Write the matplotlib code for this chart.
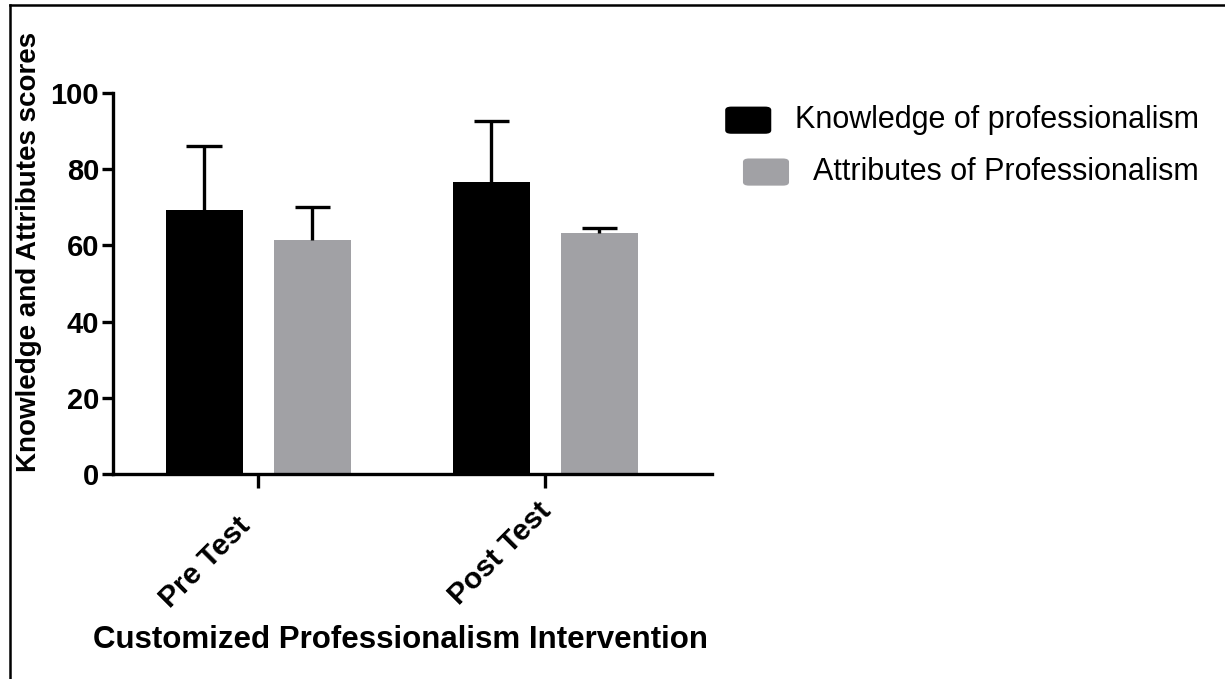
import matplotlib
matplotlib.use('Agg')
import matplotlib.pyplot as plt
from matplotlib.patches import FancyBboxPatch
from matplotlib.lines import Line2D
import numpy as np

plt.rcParams.update({
    'font.family': 'Liberation Sans',
    'axes.linewidth': 2.4,
})

groups     = ['Pre Test', 'Post Test']
series     = ['Knowledge of professionalism', 'Attributes of Professionalism']
knowledge  = [69.3, 76.6]
attributes = [61.4, 63.3]
know_sd    = [16.8, 16.0]
attr_sd    = [8.7, 1.3]
colors     = ['#000000', '#A1A1A5']

fig = plt.figure(figsize=(12.25, 6.79), dpi=100)
ax = fig.add_axes([0.0922, 0.302, 0.489, 0.561])

x = np.arange(len(groups))
off, w, cap = 0.188, 0.268, 0.061
for vals, sd, c, dx in [(knowledge, know_sd, colors[0], -off),
                        (attributes, attr_sd, colors[1], off)]:
    vals, sd = np.array(vals), np.array(sd)
    xs = x + dx
    ax.bar(xs, vals, width=w, color=c, linewidth=0, zorder=2)
    # upper half of the SD bar only, as in GraphPad
    ax.vlines(xs, vals, vals + sd, color='black', lw=2.4, zorder=3)
    ax.hlines(vals + sd, xs - cap, xs + cap, color='black', lw=2.4, zorder=3)

ax.set_xlim(-0.505, 1.58)
ax.set_ylim(0, 100)
ax.set_yticks([0, 20, 40, 60, 80, 100])
ax.set_xticks(x)
ax.set_xticklabels([])
# rotated group names, placed by hand under each tick (offsets in pixels)
label_off = [(-12, -48), (2, -33)]
for xi, name, (ox, oy) in zip(x, groups, label_off):
    ax.annotate(name, xy=(xi, 0), xycoords=('data', 'axes fraction'),
                xytext=(ox, oy), textcoords='offset pixels',
                rotation=45, ha='right', va='center', rotation_mode='anchor',
                fontsize=21.5, fontweight='bold', annotation_clip=False)
for lab in ax.get_yticklabels():
    lab.set_fontsize(21)
    lab.set_fontweight('bold')
ax.tick_params(axis='y', length=8, width=2.4, pad=2)
ax.tick_params(axis='x', length=10, width=2.4)
for s in ['top', 'right']:
    ax.spines[s].set_visible(False)

ax.set_ylabel('Knowledge and Attributes scores', fontsize=20, fontweight='bold')
ax.yaxis.set_label_coords(-0.1185, 0.583)
fig.text(0.327, 0.058, 'Customized Professionalism Intervention',
         fontsize=22.5, fontweight='bold', ha='center', va='center')

# legend drawn by hand: second entry is indented
leg_y = [0.823, 0.7466]
leg_x = [0.592, 0.6065]
bw, bh = 0.0376, 0.040
for i in range(2):
    fig.patches.append(FancyBboxPatch((leg_x[i], leg_y[i] - bh / 2), bw, bh,
                                      boxstyle='round,pad=0,rounding_size=0.005',
                                      transform=fig.transFigure, facecolor=colors[i],
                                      edgecolor='none'))
    fig.text(leg_x[i] + 0.057, leg_y[i], series[i], fontsize=22,
             ha='left', va='center')

# frame lines along top and left edge
fig.add_artist(Line2D([0.008, 1.0], [0.992, 0.992], color='black', lw=1.8,
                      transform=fig.transFigure))
fig.add_artist(Line2D([0.008, 0.008], [0.0, 0.992], color='black', lw=1.8,
                      transform=fig.transFigure))

fig.savefig('out.png', dpi=100)
